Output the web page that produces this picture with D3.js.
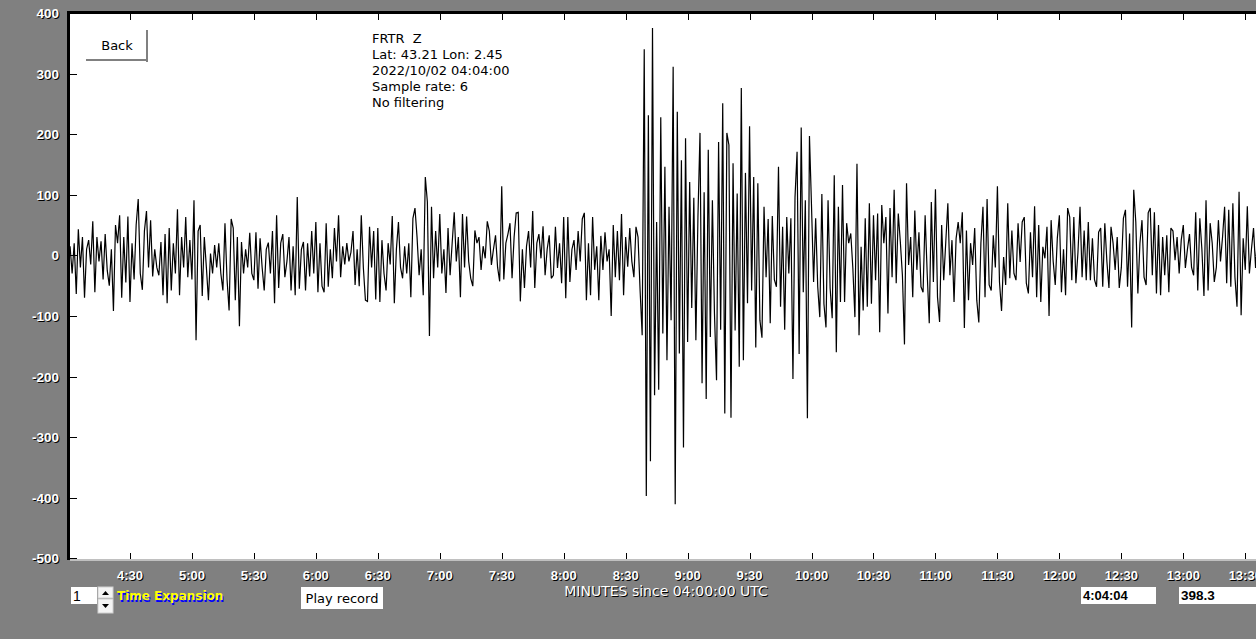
<!DOCTYPE html>
<html><head><meta charset="utf-8">
<script src="https://cdn.jsdelivr.net/npm/d3@7"></script>
<style>html,body{margin:0;padding:0;background:#808080;overflow:hidden}</style>
</head><body><svg id="c" width="1256" height="639"></svg>
<script>
// ---- data ----
const startSec = 240;          // 4:00 (minutes:seconds since 04:00:00 UTC)
const endSec = 815.2;          // right edge of the visible window
const stepSec = 1;             // one value per second
const trace = [
 -8, 15, -30, 20, -64, 43, -20, 30, -70, 10, 25, -15, 56, -61, 30, -10, 23, -40, 35, -25, -50, 10, -92, 50,
 20, 66, -70, 30, -45, 64, -77, 20, -40, 50, 93, -30, -57, 40, 73, -20, 58, -35, 10, -20, -33, 22, -66, 35,
 -79, 45, -58, 20, -30, 76, -66, 30, -20, 63, -36, 25, -40, 91, -140, 40, 50, -67, 30, -20, -74, 3, -30, 17,
 -20, 20, -30, -58, 53, -40, -91, 60, 45, -74, 30, -117, 22, -30, 10, -20, 37, -30, -41, 38, -55, 28, -20, -58,
 10, 21, -30, 40, -79, 66, -54, 20, 35, -36, -10, 30, -58, 15, -66, 96, -55, 10, 22, -58, 20, -35, 40, -30,
 55, -61, 20, -51, -61, 53, -52, 10, -38, 45, -10, 66, -36, 15, -15, 20, -10, 5, 40, -49, 10, -51, 66, -20,
 -74, -76, 47, -20, 40, -73, 45, -77, 25, -30, -58, 20, -15, 65, -79, 10, 55, -20, -38, 15, -30, 20, -69, 61,
 78, 30, -33, 10, -66, 129, 88, -133, 80, -38, 40, -20, 68, -30, 10, -62, 45, -33, 20, 71, -10, 30, -69, 68,
 -20, 64, -10, -38, -51, 41, 20, 30, -24, 15, -5, 56, 40, -16, 10, 33, -20, -43, 114, -40, 20, 35, 53, -38,
 30, 70, 71, -76, 10, -54, 15, 40, -20, 73, -54, 20, 35, -5, 48, -33, 10, 33, -38, -33, 47, -21, 20, -46,
 63, -71, 63, -44, 10, 25, -24, 40, -10, 60, 70, -74, 20, -66, 63, -24, 15, -74, 32, -24, 38, -10, 10, -100,
 50, -36, 40, -41, 68, -66, 30, -19, 45, -10, -36, 47, 30, -58, -132, 340, -397, 231, -340, 375, -231, 55, -222, 228,
 -129, 146, -173, 80, -107, 311, -411, 237, -162, 157, -317, 193, -143, 121, -87, 95, -140, 63, 202, -211, 104, -237, 174, -135,
 91, -96, -206, 187, -123, 251, -261, 202, 182, -268, 152, -124, 102, -184, 276, -173, 136, -79, 213, -58, 129, -152, 119, -107,
 -136, 80, -36, 60, -112, 65, -40, -52, 146, -85, 47, -123, 63, -30, 61, -204, 96, 171, -163, 211, -61, 91, -269, 197,
 80, -44, 61, -52, -102, 101, -80, -119, 91, -54, -104, 132, -160, 80, -77, 116, -77, 53, 20, 36, -21, -102, 151, -132,
 14, -91, 61, -85, 86, -80, 66, -41, 69, -127, 83, 20, 63, -96, 78, -36, 108, -46, 69, 22, -33, -147, 119, -16,
 30, -69, 74, -24, 38, -52, -61, 66, -30, -112, 88, -44, 109, -69, -110, 50, -41, 22, 86, -33, 25, -77, 28, 55,
 20, 71, -120, 41, -74, 20, -16, 45, -74, -111, 20, 80, -69, 93, -49, -58, 33, -20, 114, -44, -92, -3, -49, 86,
 -38, 41, -30, -41, 53, -11, 55, 63, -46, -63, 38, -36, 81, -69, 50, -77, 14, -5, 47, -100, 58, -10, -49, 28,
 66, -61, 10, -66, 78, 63, -41, 63, -46, 5, 80, -36, 41, -41, 55, -41, 28, -40, -52, 38, 45, -52, 53, -10,
 -54, 47, 20, -24, 30, -54, -20, 61, 75, -52, 36, -119, 108, 55, -63, 20, 58, -36, -49, 70, 78, -33, 71, -63,
 50, -66, 30, -33, 33, -61, 45, 40, -8, 30, -30, 25, 50, -21, 10, 35, -20, -33, 71, -58, 61, 10, -67, 91,
 -58, 53, 20, -44, -20, 58, -10, 30, 80, -46, 75, -52, 86, -36, -85, 105, -99, 28, -24, 81, -30, 10, 45, -21, 41
];
const xTickSecs = [270, 300, 330, 360, 390, 420, 450, 480, 510, 540, 570, 600, 630, 660, 690, 720, 750, 780, 810];
const xTickLabels = ["4:30","5:00","5:30","6:00","6:30","7:00","7:30","8:00","8:30","9:00","9:30","10:00","10:30","11:00","11:30","12:00","12:30","13:00","13:30"];
const yTicks = [400, 300, 200, 100, 0, -100, -200, -300, -400, -500];
const yDomain = [-500, 400];
const infoLines = ["FRTR  Z", "Lat: 43.21 Lon: 2.45", "2022/10/02 04:04:00", "Sample rate: 6", "No filtering"];
const axisTitle = "MINUTES since 04:00:00 UTC";
const expansionValue = "1";
const expansionLabel = "Time Expansion";
const playLabel = "Play record";
const backLabel = "Back";
const timeBoxText = "4:04:04";
const valueBoxText = "398.3";

// ---- layout ----
const W = 1256, H = 639;
const plot = {left: 70, top: 14, right: 1256, bottom: 559};
const x = d3.scaleLinear().domain([startSec, endSec]).range([68, 1256]);
const y = d3.scaleLinear().domain(yDomain).range([558.3, 12.9]);

const svg = d3.select("#c");
svg.append("rect").attr("width", W).attr("height", H).attr("fill", "#808080");

// plot area
svg.append("rect").attr("x", plot.left).attr("y", plot.top)
  .attr("width", plot.right - plot.left).attr("height", plot.bottom - plot.top).attr("fill", "#fff");
svg.append("defs").append("clipPath").attr("id", "clip")
  .append("rect").attr("x", plot.left).attr("y", plot.top)
  .attr("width", plot.right - plot.left).attr("height", plot.bottom - plot.top);

// trace
const line = d3.line().x((d, i) => x(startSec + i * stepSec)).y(d => y(d));
svg.append("path").datum(trace).attr("clip-path", "url(#clip)")
  .attr("d", line).attr("fill", "none").attr("stroke", "#000").attr("stroke-width", 1.2)
  .attr("stroke-linejoin", "miter").attr("stroke-miterlimit", 2);

// frame: dark top/left, light bottom
svg.append("rect").attr("x", 67).attr("y", 11).attr("width", 3).attr("height", 549).attr("fill", "#000");
svg.append("rect").attr("x", 67).attr("y", 11).attr("width", W - 67).attr("height", 3).attr("fill", "#000");
svg.append("rect").attr("x", 70).attr("y", 559).attr("width", W - 70).attr("height", 2).attr("fill", "#c0c0c0");

// ticks
const tg = svg.append("g").attr("shape-rendering", "crispEdges").attr("stroke", "#000").attr("stroke-width", 1);
tg.selectAll("line.yt").data(yTicks.filter(v => v !== 400)).join("line").attr("class", "yt")
  .attr("x1", 70).attr("x2", 77).attr("y1", d => Math.round(y(d)) + 0.5).attr("y2", d => Math.round(y(d)) + 0.5);
tg.selectAll("line.xt").data(xTickSecs).join("line").attr("class", "xt")
  .attr("x1", d => Math.round(x(d)) + 0.5).attr("x2", d => Math.round(x(d)) + 0.5).attr("y1", 14).attr("y2", 20);
tg.selectAll("line.xb").data(xTickSecs).join("line").attr("class", "xb")
  .attr("x1", d => Math.round(x(d)) + 0.5).attr("x2", d => Math.round(x(d)) + 0.5).attr("y1", 553).attr("y2", 559);

// text with shadow helper
function shadowText(g, px, py, txt, o) {
  const mk = (dx, dy, fill) => g.append("text").attr("x", px + dx).attr("y", py + dy)
    .attr("text-anchor", o.anchor || "start").attr("font-family", o.family || "'Liberation Sans', Arial, sans-serif")
    .attr("font-size", o.size).attr("font-weight", o.weight || "normal").attr("fill", fill)
    .style("white-space", "pre").text(txt);
  mk(o.sdx || 1, o.sdy || 1, o.shadow || "#000");
  mk(0, 0, o.fill || "#fff");
}

const lg = svg.append("g");
yTicks.forEach(v => shadowText(lg, 59, y(v) + 5, String(v), {anchor: "end", size: 13.5, weight: "bold"}));
xTickSecs.forEach((s, i) => shadowText(lg, x(s), 580, xTickLabels[i], {anchor: "middle", size: 13, weight: "bold"}));
shadowText(lg, 666, 596, axisTitle, {anchor: "middle", size: 14, family: "'DejaVu Sans', sans-serif"});
shadowText(lg, 117, 600, expansionLabel, {size: 12, weight: "bold", family: "'DejaVu Sans', sans-serif", fill: "#ffff00", shadow: "#0000ff", sdx: 1, sdy: 2});

// info block
const ig = svg.append("g").attr("font-family", "'DejaVu Sans', sans-serif").attr("font-size", 13).attr("fill", "#000");
ig.selectAll("text").data(infoLines).join("text")
  .attr("x", 372).attr("y", (d, i) => 43 + i * 16).style("white-space", "pre").text(d => d);

// Back button
svg.append("rect").attr("x", 86).attr("y", 30).attr("width", 61).attr("height", 30).attr("fill", "#fff");
svg.append("rect").attr("x", 146).attr("y", 30).attr("width", 2).attr("height", 32).attr("fill", "#808080");
svg.append("rect").attr("x", 86).attr("y", 59).attr("width", 62).attr("height", 2).attr("fill", "#808080");
svg.append("text").attr("x", 117).attr("y", 50).attr("text-anchor", "middle")
  .attr("font-family", "'DejaVu Sans', sans-serif").attr("font-size", 13).attr("fill", "#000").text(backLabel);

// controls at the bottom
const cg = svg.append("g");
cg.append("rect").attr("x", 71).attr("y", 587).attr("width", 26).attr("height", 17).attr("fill", "#fff");
cg.append("text").attr("x", 73).attr("y", 601).attr("font-family", "'Liberation Sans', Arial, sans-serif")
  .attr("font-size", 14).attr("fill", "#000").text(expansionValue);
cg.append("rect").attr("x", 98).attr("y", 587).attr("width", 15).attr("height", 11).attr("fill", "#f4f4f4").attr("stroke", "#d0d0d0");
cg.append("rect").attr("x", 98).attr("y", 599).attr("width", 15).attr("height", 14).attr("fill", "#f4f4f4").attr("stroke", "#d0d0d0");
cg.append("path").attr("d", "M102,595 L109,595 L105.5,591 Z").attr("fill", "#000");
cg.append("path").attr("d", "M102,604 L109,604 L105.5,608 Z").attr("fill", "#000");

cg.append("rect").attr("x", 301).attr("y", 587).attr("width", 82).attr("height", 22).attr("fill", "#fff");
cg.append("text").attr("x", 342).attr("y", 603).attr("text-anchor", "middle")
  .attr("font-family", "'DejaVu Sans', sans-serif").attr("font-size", 13).attr("fill", "#000").text(playLabel);

cg.append("rect").attr("x", 1081).attr("y", 587).attr("width", 75).attr("height", 17).attr("fill", "#fff");
cg.append("text").attr("x", 1083).attr("y", 600).attr("font-family", "'Liberation Sans', Arial, sans-serif")
  .attr("font-size", 13).attr("font-weight", "bold").attr("fill", "#000").text(timeBoxText);
cg.append("rect").attr("x", 1179).attr("y", 587).attr("width", 80).attr("height", 17).attr("fill", "#fff");
cg.append("text").attr("x", 1181).attr("y", 600).attr("font-family", "'Liberation Sans', Arial, sans-serif")
  .attr("font-size", 13.5).attr("font-weight", "bold").attr("fill", "#000").text(valueBoxText);
</script>
</body></html>
